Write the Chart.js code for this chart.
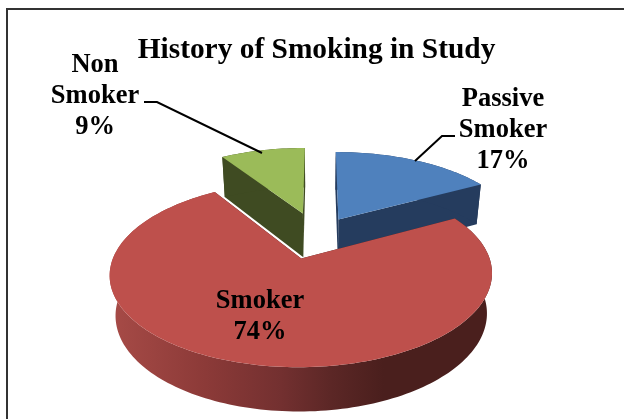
<!DOCTYPE html>
<html>
<head>
<meta charset="utf-8">
<style>html,body{margin:0;padding:0;background:#fff}canvas{display:block}</style>
<script src="https://cdn.jsdelivr.net/npm/chart.js@4"></script>
</head>
<body>
<canvas id="c" width="624" height="419"></canvas>
<script>
const titleText = "History of Smoking in Study";
const categories = ["Passive Smoker", "Smoker", "Non Smoker"];
const values = [17, 74, 9];
const colors = ["#4F81BD", "#BE504C", "#9BBB59"];
const sideColors = ["#253C5E", "#4A1F1D", "#3F4B22"];

// 3D projection settings for the pie disc
const view = {cx: 317, cy: 233.6, R: 182, t: 83, H: 38, p: 0.165, q: 0.026};
const explode = [0.21, 0.29, 0.29];
const nudge = [[2.5, 0.5], [-2, 0.5], [0, 2]];
const radiusScale = [1, 0.987, 1];
const depthScale = [1.15, 1.05, 1.22];
const drawOrder = [2, 0, 1];
const labelSpots = [
  {x: 503, y: 106, lines: 3},
  {x: 260, y: 308, lines: 2},
  {x: 95, y: 72, lines: 3}
];
const leaders = [
  [[455, 136], [442, 136], [415, 161]],
  null,
  [[144, 102], [157, 102], [262, 153]]
];

function project(X, Y, Z) {
  const w = 1 - view.p * Y + view.q * Z;
  return [view.cx + view.R * X / w, view.cy + (view.t * Y + view.H * Z) / w];
}

const pie3d = {
  id: "pie3d",
  beforeDatasetsDraw(chart) {
    const ctx = chart.ctx, meta = chart.getDatasetMeta(0);
    const poly = (pts, fill) => {
      ctx.beginPath();
      pts.forEach((p, i) => i ? ctx.lineTo(p[0], p[1]) : ctx.moveTo(p[0], p[1]));
      ctx.closePath();
      ctx.fillStyle = fill;
      ctx.fill();
    };
    drawOrder.forEach(i => {
      const arc = meta.data[i];
      const a0 = arc.startAngle + Math.PI / 2, a1 = arc.endAngle + Math.PI / 2;
      const mid = (a0 + a1) / 2;
      const ox = Math.sin(mid) * explode[i], oy = -Math.cos(mid) * explode[i];
      const rr = radiusScale[i];
      const rim = [];
      const n = Math.ceil((a1 - a0) * 40);
      for (let k = 0; k <= n; k++) {
        const a = a0 + (a1 - a0) * k / n;
        rim.push([ox + rr * Math.sin(a), oy - rr * Math.cos(a)]);
      }
      const P = (q, z) => {
        const s = project(q[0], q[1], z * depthScale[i]);
        return [s[0] + nudge[i][0], s[1] + nudge[i][1]];
      };
      const apex = [ox, oy];
      // radial faces
      poly([P(apex, 0), P(rim[0], 0), P(rim[0], 1), P(apex, 1)], sideColors[i]);
      poly([P(apex, 0), P(rim[n], 0), P(rim[n], 1), P(apex, 1)], sideColors[i]);
      // outer wall
      let wall = sideColors[i];
      if (i === 1) {
        const g = ctx.createLinearGradient(110, 0, 490, 0);
        g.addColorStop(0, "#A74B47");
        g.addColorStop(0.25, "#8C3A38");
        g.addColorStop(0.45, "#733030");
        g.addColorStop(0.58, "#5C2726");
        g.addColorStop(0.72, "#4A1F1D");
        g.addColorStop(1, "#4A1F1D");
        wall = g;
      }
      poly(rim.map(q => P(q, 0)).concat(rim.slice().reverse().map(q => P(q, 1))), wall);
      // top face
      poly([P(apex, 0)].concat(rim.map(q => P(q, 0))), arc.options.backgroundColor);
    });
    return false;
  },
  afterDraw(chart) {
    const ctx = chart.ctx;
    ctx.save();
    ctx.strokeStyle = "#333333";
    ctx.lineWidth = 2;
    ctx.beginPath();
    ctx.moveTo(7, 419);
    ctx.lineTo(7, 9);
    ctx.lineTo(624, 9);
    ctx.stroke();
    ctx.strokeStyle = "#000";
    ctx.lineWidth = 2;
    leaders.forEach(l => {
      if (!l) return;
      ctx.beginPath();
      l.forEach((p, k) => k ? ctx.lineTo(p[0], p[1]) : ctx.moveTo(p[0], p[1]));
      ctx.stroke();
    });
    ctx.fillStyle = "#000";
    ctx.font = 'bold 26.5px "Liberation Serif"';
    ctx.textAlign = "center";
    ctx.textBaseline = "alphabetic";
    categories.forEach((name, i) => {
      const lines = name.split(" ").concat(values[i] + "%");
      lines.forEach((s, k) => ctx.fillText(s, labelSpots[i].x, labelSpots[i].y + k * 31));
    });
    ctx.restore();
  }
};

new Chart(document.getElementById("c"), {
  type: "pie",
  data: {labels: categories, datasets: [{data: values, backgroundColor: colors, borderWidth: 0}]},
  plugins: [pie3d],
  options: {
    responsive: false,
    animation: false,
    layout: {padding: {left: 9, top: 0}},
    plugins: {
      legend: {display: false},
      title: {
        display: true,
        text: titleText,
        fullSize: false,
        color: "#000",
        font: {family: '"Liberation Serif"', size: 29.4, weight: "bold"},
        padding: {top: 33, bottom: 4}
      }
    }
  }
});
</script>
</body>
</html>
